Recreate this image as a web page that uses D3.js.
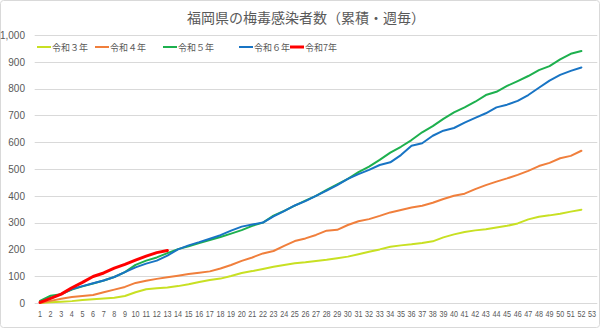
<!DOCTYPE html>
<html><head><meta charset="utf-8">
<script src="https://cdn.jsdelivr.net/npm/d3@7"></script>
<style>
html,body{margin:0;padding:0;background:#fff;}
svg{display:block;}
</style></head>
<body><svg id="c" width="600" height="328"></svg>
<script>
const title = "福岡県の梅毒感染者数（累積・週毎）";
const weeks = d3.range(1, 54);
const seriesNames = ["令和３年", "令和４年", "令和５年", "令和６年", "令和7年"];
const seriesColors = ["#C8E023", "#F07F3C", "#1DB04E", "#1874C4", "#FF0000"];
const seriesWidths = [2, 2, 2, 2, 3];
const r3 = [0,3,5,7,11,14,17,20,26,40,51,55,58,63,70,78,86,91,101,112,119,127,135,142,148,152,157,161,167,173,182,191,200,210,215,219,224,230,245,256,265,271,275,282,288,297,312,322,327,333,341,348];
const r4 = [0,8,16,22,26,30,40,50,60,75,83,90,96,102,108,113,118,129,142,157,170,185,194,213,231,241,254,270,273,291,305,313,325,338,347,356,363,374,388,400,408,425,440,453,465,478,493,511,523,540,549,568];
const r5 = [8,27,33,50,62,73,84,97,115,142,158,170,186,201,212,224,235,246,259,272,288,300,326,344,363,382,400,422,443,463,488,509,534,561,583,608,637,660,687,711,730,751,776,788,810,828,847,869,884,909,930,940];
const r6 = [3,18,33,52,63,74,84,97,115,133,147,158,177,200,215,227,240,253,270,285,293,300,323,343,364,380,400,419,440,463,481,497,515,525,552,587,596,624,643,653,673,691,708,730,740,754,776,803,830,851,866,879];
const r7 = [2,17,33,57,77,99,112,130,144,160,175,188,196];
const yTicks = [0,100,200,300,400,500,600,700,800,900,1000];

const allSeries = [r3, r4, r5, r6, r7];
const svg = d3.select("#c");
svg.append("rect").attr("x",0.5).attr("y",0.5).attr("width",599).attr("height",327)
  .attr("rx",3).attr("fill","#fff").attr("stroke","#d9d9d9");

const x = d3.scaleBand().domain(weeks).range([34.7, 597.3]);
const y = d3.scaleLinear().domain([0, 1000]).range([303, 35]);

// gridlines
svg.append("g").selectAll("line").data(yTicks).join("line")
  .attr("x1", 34.7).attr("x2", 597.3)
  .attr("y1", d => Math.round(y(d)) + 0.5).attr("y2", d => Math.round(y(d)) + 0.5)
  .attr("stroke", "#d9d9d9").attr("stroke-width", 1);

// y axis labels
const yAxis = d3.axisLeft(y).tickValues(yTicks).tickFormat(d3.format(",")).tickSize(0).tickPadding(0);
const gy = svg.append("g").attr("transform", "translate(25,0)").call(yAxis);
gy.select(".domain").remove();
gy.selectAll("text").attr("fill", "#595959").attr("font-size", "10px")
  .attr("font-family", "'Liberation Sans', Arial, sans-serif");

// x axis labels
const xAxis = d3.axisBottom(x).tickSize(0).tickPadding(0);
const gx = svg.append("g").attr("transform", "translate(0,311)").call(xAxis);
gx.select(".domain").remove();
gx.selectAll("text").attr("fill", "#595959").attr("font-size", "9px")
  .attr("font-family", "'Liberation Sans', Arial, sans-serif")
  .attr("transform", "scale(0.8,1)");

// lines
const line = d3.line().x((d, i) => x(weeks[i]) + x.bandwidth() / 2).y(d => y(d));
allSeries.forEach((s, k) => {
  svg.append("path").datum(s).attr("d", line).attr("fill", "none")
    .attr("stroke", seriesColors[k]).attr("stroke-width", seriesWidths[k])
    .attr("stroke-linejoin", "round").attr("stroke-linecap", "round");
});

// title
svg.append("text").attr("x", 306).attr("y", 23).attr("text-anchor", "middle")
  .attr("font-family", "'Noto Sans CJK JP', sans-serif").attr("font-size", "14px")
  .attr("fill", "#595959").text(title);

// legend
const legX = [37, 95, 163, 239, 290];
const lg = svg.append("g");
seriesNames.forEach((n, k) => {
  lg.append("line").attr("x1", legX[k]).attr("x2", legX[k] + 14)
    .attr("y1", 47).attr("y2", 47).attr("stroke", seriesColors[k]).attr("stroke-width", seriesWidths[k]);
  lg.append("text").attr("x", legX[k] + 15).attr("y", 50.5)
    .attr("font-family", "'Noto Sans CJK JP', sans-serif").attr("font-size", "9px")
    .attr("fill", "#595959").text(n);
});
</script></body></html>
